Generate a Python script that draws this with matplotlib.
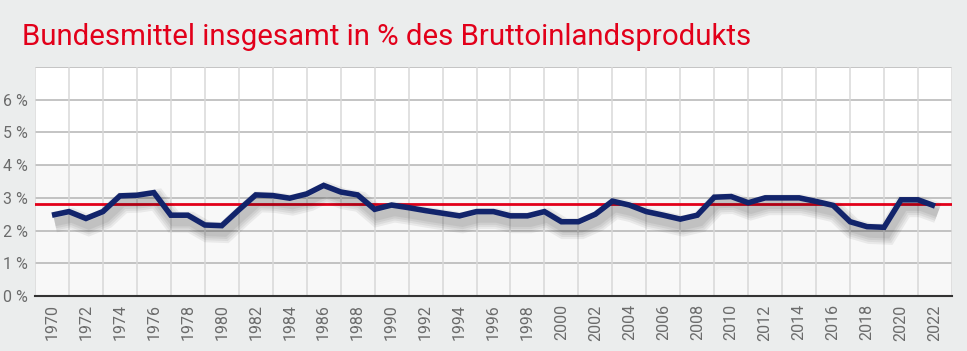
import matplotlib.pyplot as plt
import matplotlib.patheffects as pe
from matplotlib import font_manager

years = list(range(1970, 2023))
share = [2.47, 2.58, 2.37, 2.58, 3.06, 3.08, 3.16, 2.47, 2.47, 2.17,
         2.15, 2.63, 3.09, 3.07, 2.99, 3.12, 3.38, 3.18, 3.09, 2.65,
         2.78, 2.70, 2.61, 2.53, 2.45, 2.58, 2.58, 2.45, 2.45, 2.58,
         2.27, 2.27, 2.50, 2.90, 2.78, 2.58, 2.47, 2.35, 2.47, 3.02,
         3.04, 2.85, 3.00, 3.00, 3.00, 2.89, 2.77, 2.27, 2.12, 2.10,
         2.94, 2.94, 2.75]
average = 2.8
y_ticks = [0, 1, 2, 3, 4, 5, 6]
y_labels = ["%d %%" % v for v in y_ticks]
title = "Bundesmittel insgesamt in % des Bruttoinlandsprodukts"

# pick a narrow font if one is around
names = {f.name for f in font_manager.fontManager.ttflist}
narrow = "Liberation Sans Narrow" if "Liberation Sans Narrow" in names else "Roboto"
plt.rcParams["font.family"] = [narrow, "DejaVu Sans"]

bg = "#ebeded"
fig = plt.figure(figsize=(9.67, 3.51), dpi=100, facecolor=bg)
ax = fig.add_axes([35 / 967, 55 / 351, 917 / 967, 229 / 351])
ax.set_facecolor("white")

ax.set_xlim(1969, 2023)
ax.set_ylim(0, 7)

# lower band is a touch greyer
ax.axhspan(0, 4, color="#f8f8f8", zorder=0)

for y in range(1, 8):
    ax.axhline(y, color="#b4b4b4", lw=1.1, zorder=1)
for x in range(1969, 2024, 2):
    ax.axvline(x, color="#d8d8d8", lw=1.1, zorder=1)

ax.axhline(average, color="#e2001a", lw=2, zorder=3)

# soft drop shadow under the line
shadow = [pe.SimpleLineShadow(offset=(2, -5), shadow_color="#000000", alpha=0.06,
                              linewidth=w) for w in (15, 12, 9, 6)]
ax.plot(years, share, color="#12246b", lw=4, solid_joinstyle="miter",
        solid_capstyle="butt", zorder=4,
        path_effects=shadow + [pe.Normal()])

for s in ["left", "right", "top"]:
    ax.spines[s].set_visible(False)
ax.spines["bottom"].set_color("#333333")
ax.spines["bottom"].set_linewidth(1.5)
ax.spines["bottom"].set_zorder(5)

ax.set_yticks(y_ticks)
ax.set_yticklabels(y_labels, fontsize=11.5, color="#6b6b6b")
ax.set_xticks(years[::2])
ax.set_xticklabels([str(y) for y in years[::2]], rotation=90, fontsize=11.5, color="#6b6b6b")
ax.tick_params(length=0, pad=6)
ax.tick_params(axis="y", pad=5)

fig.text(22 / 967, 1 - 37 / 351, title, color="#e2001a", fontsize=21.2,
         va="center", ha="left")

fig.savefig("out.png", dpi=100, facecolor=bg)
